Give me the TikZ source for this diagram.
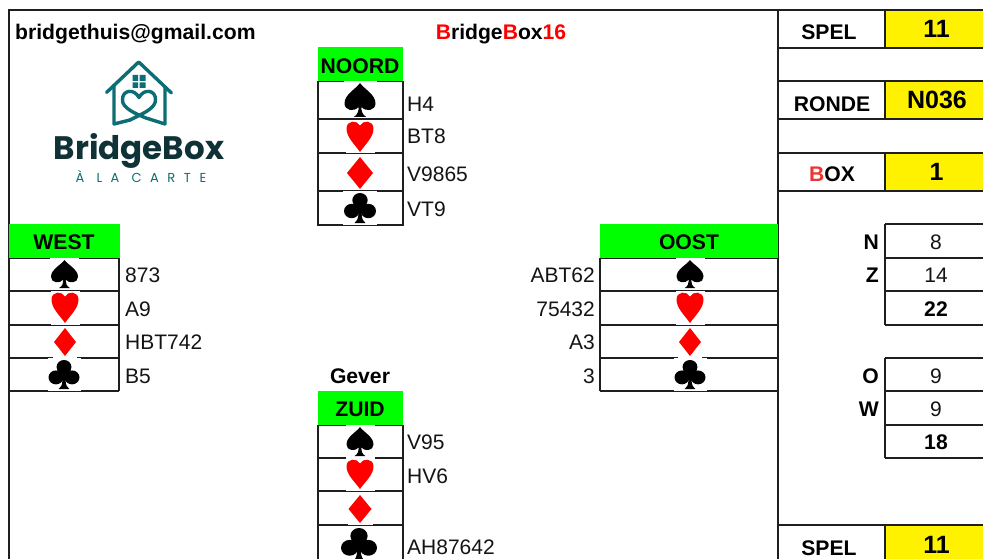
\documentclass[tikz,border=0pt]{standalone}
\usepackage{fontspec}
\setmainfont{Liberation Sans}
\newfontfamily\logofont{Poppins}
\newfontfamily\logosub[LetterSpace=66]{Poppins}
\definecolor{teal1}{HTML}{0B6E75}
\definecolor{dark1}{HTML}{0E3236}
\definecolor{redb}{HTML}{EE3333}
\tikzset{
  grid/.style={line width=1.05pt,draw=black!88},
  plain/.style={inner sep=0pt,font=\fontsize{21}{25}\selectfont,text=black!92},
  strong/.style={inner sep=0pt,font=\fontsize{21.15}{25}\selectfont\bfseries},
  big/.style={inner sep=0pt,font=\fontsize{25}{28}\selectfont\bfseries},
  lb/.style={anchor=base west},
  rb/.style={anchor=base east},
  cb/.style={anchor=base},
}
% centre x, top y, width, height
\newcommand{\glyphbg}[4]{\fill[white] ({#1-#3/2-1},{#2-2}) rectangle ({#1+#3/2+1},{#2+#4+1.5});}
\newcommand{\spadeS}[4]{\glyphbg{#1}{#2}{#3}{#4}\begin{scope}[shift={(#1,#2)},xscale=#3,yscale=#4]
\fill[black] (0,0) .. controls (-.12,.17) and (-.5,.33) .. (-.5,.6) .. controls (-.5,.82) and (-.18,.86) .. (-.04,.7) .. controls (-.04,.82) and (-.08,.94) .. (-.2,1) -- (.2,1) .. controls (.08,.94) and (.04,.82) .. (.04,.7) .. controls (.18,.86) and (.5,.82) .. (.5,.6) .. controls (.5,.33) and (.12,.17) .. (0,0) -- cycle;
\end{scope}}
\newcommand{\heartS}[4]{\glyphbg{#1}{#2}{#3}{#4}\begin{scope}[shift={(#1,#2)},xscale=#3,yscale=#4]
\fill[red] (0,1) .. controls (-.22,.72) and (-.5,.5) .. (-.5,.22) .. controls (-.5,-.07) and (-.1,-.07) .. (0,.12) .. controls (.1,-.07) and (.5,-.07) .. (.5,.22) .. controls (.5,.5) and (.22,.72) .. (0,1) -- cycle;
\end{scope}}
\newcommand{\diamondS}[4]{\glyphbg{#1}{#2}{#3}{#4}\begin{scope}[shift={(#1,#2)},xscale=#3,yscale=#4]
\fill[red] (0,0) -- (.5,.5) -- (0,1) -- (-.5,.5) -- cycle;
\end{scope}}
\newcommand{\clubS}[4]{\glyphbg{#1}{#2}{#3}{#4}\begin{scope}[shift={(#1,#2)},xscale=#3,yscale=#4]
\fill[black] (0,.24) circle[radius=.24] (-.26,.6) circle[radius=.24] (.26,.6) circle[radius=.24];
\fill[black] (-.1,.4) -- (.1,.4) -- (.05,.7) .. controls (.06,.85) and (.09,.95) .. (.17,1) -- (-.17,1) .. controls (-.09,.95) and (-.06,.85) .. (-.05,.7) -- cycle;
\end{scope}}
\begin{document}
\begin{tikzpicture}[x=1pt,y=-1pt]
\useasboundingbox (0,0) rectangle (983,559);
\clip (0,0) rectangle (983,559);
\fill[white] (0,0) rectangle (983,559);
% fills
\fill[yellow] (885,10) rectangle (983,48);
\fill[yellow] (885,81) rectangle (983,119);
\fill[yellow] (885,153) rectangle (983,191);
\fill[yellow] (885,525) rectangle (983,559);
% frame
\draw[grid] (9,559) -- (9,10) -- (983,10);
\draw[grid] (778,10) -- (778,559);
% right column
\foreach \yy in {48,81,119,153,191,525} \draw[grid] (778,\yy) -- (983,\yy);
\foreach \ya/\yb in {10/48,81/119,153/191,525/559,224/325,358/458} \draw[grid] (885,\ya) -- (885,\yb);
\foreach \yy in {224,258,291,325,358,391,425,458} \draw[grid] (885,\yy) -- (983,\yy);
% hand tables
\draw[grid] (318,81) -- (318,225) -- (403,225) -- (403,81);
\foreach \yy in {81,119,153,191} \draw[grid] (318,\yy) -- (403,\yy);
\draw[grid] (318,559) -- (318,425) (403,425) -- (403,559);
\foreach \yy in {425,458,491,525} \draw[grid] (318,\yy) -- (403,\yy);
\draw[grid] (119,258) -- (119,391);
\foreach \yy in {258,291,325,358,391} \draw[grid] (9,\yy) -- (119,\yy);
\draw[grid] (600,258) -- (600,391);
\foreach \yy in {258,291,325,358,391} \draw[grid] (600,\yy) -- (778,\yy);
% headers
\fill[green] (318,47) rectangle (403,81);
\fill[green] (318,391) rectangle (403,425);
\fill[green] (9,224) rectangle (120,258);
\fill[green] (600,224) rectangle (778,258);
% suits
\spadeS{360}{83}{31}{34}\heartS{360}{122}{27}{30}\diamondS{360}{157}{26}{32}\clubS{360}{193}{32}{30}
\spadeS{64.5}{260}{27}{28}\heartS{65}{293}{27}{30}\diamondS{65}{328}{22}{28}\clubS{64}{360}{31}{29}
\spadeS{690}{260}{27}{28}\heartS{690}{293}{27}{30}\diamondS{690}{328}{22}{28}\clubS{690}{360}{31}{29}
\spadeS{360}{427}{27}{29}\heartS{360}{460}{27}{29}\diamondS{360}{495}{23}{28}\clubS{359}{528}{36}{33}
% logo
\begin{scope}[line width=3.4pt,draw=teal1,line cap=round,line join=round]
\draw (106.5,92.5) -- (138.7,62) -- (171.5,93);
\draw (114,85) -- (114,124) -- (130,120);
\draw (165,87) -- (165,124) -- (146,118)
  .. controls (136,114) and (122,108) .. (122.5,100) .. controls (122,90) and (134,88) .. (139,97.5)
  .. controls (144,88) and (156,90) .. (155.5,100) .. controls (155.5,107) and (146,112) .. (139,115.5) -- (130,120);
\end{scope}
\fill[teal1] (132.5,75) rectangle (138,81) (139.5,75) rectangle (145.5,81) (132.5,82.5) rectangle (138,88) (139.5,82.5) rectangle (145.5,88);
\node[inner sep=0pt,anchor=base,text=dark1,font=\logofont\fontsize{32.5}{36}\selectfont\bfseries] (logoname) at (139,160) {BridgeBox};
\node[inner sep=0pt,anchor=base,text=teal1,font=\logosub\fontsize{13}{15}\selectfont] (logosub) at (141,182.5) {À LA CARTE};
% top texts
\node[strong,lb] (mail) at (15,39.5) {bridgethuis@gmail.com};
\node[strong,cb] (title) at (501,39.5) {\textcolor{red}{B}ridge\textcolor{red}{B}ox\textcolor{red}{16}};
\node[strong,cb] (noord) at (360,74) {NOORD};
\node[strong,cb] (west) at (64,249) {WEST};
\node[strong,cb] (oost) at (689,249) {OOST};
\node[strong,cb] (zuid) at (360,416) {ZUID};
\node[strong,cb] (gever) at (360,383) {Gever};
% hands
\node[plain,lb] (n1) at (407,112) {H4};
\node[plain,lb] (n2) at (407,144) {BT8};
\node[plain,lb] (n3) at (407,182) {V9865};
\node[plain,lb] (n4) at (407,216.5) {VT9};
\node[plain,lb] (w1) at (125,282) {873};
\node[plain,lb] (w2) at (125,316) {A9};
\node[plain,lb] (w3) at (125,349) {HBT742};
\node[plain,lb] (w4) at (125,383) {B5};
\node[plain,rb] (e1) at (595,282) {ABT62};
\node[plain,rb] (e2) at (595,316) {75432};
\node[plain,rb] (e3) at (595,349) {A3};
\node[plain,rb] (e4) at (595,383) {3};
\node[plain,lb] (s1) at (407,449) {V95};
\node[plain,lb] (s2) at (407,483) {HV6};
\node[plain,lb] (s3) at (407,554) {AH87642};
% right column texts
\node[strong,cb] (spel1) at (829,39.5) {SPEL};
\node[big,cb] (v1) at (936.5,38) {11};
\node[strong,cb] (ronde) at (832,111.5) {RONDE};
\node[big,cb] (v2) at (937,109) {N036};
\node[strong,cb] (box) at (832,182) {\textcolor{redb}{B}OX};
\node[big,cb] (v3) at (936.5,181) {1};
\node[strong,rb] (ln) at (879,249) {N};
\node[plain,cb] (pn) at (936,249.5) {8};
\node[strong,rb] (lz) at (879,282.5) {Z};
\node[plain,cb] (pz) at (936,282.5) {14};
\node[strong,cb] (pt1) at (936,316) {22};
\node[strong,rb] (lo) at (879,383) {O};
\node[plain,cb] (po) at (936,383) {9};
\node[strong,rb] (lw) at (879,416) {W};
\node[plain,cb] (pw) at (936,416) {9};
\node[strong,cb] (pt2) at (936,449) {18};
\node[strong,cb] (spel2) at (829,555) {SPEL};
\node[big,cb] (v4) at (936.5,553) {11};
\end{tikzpicture}
\end{document}
